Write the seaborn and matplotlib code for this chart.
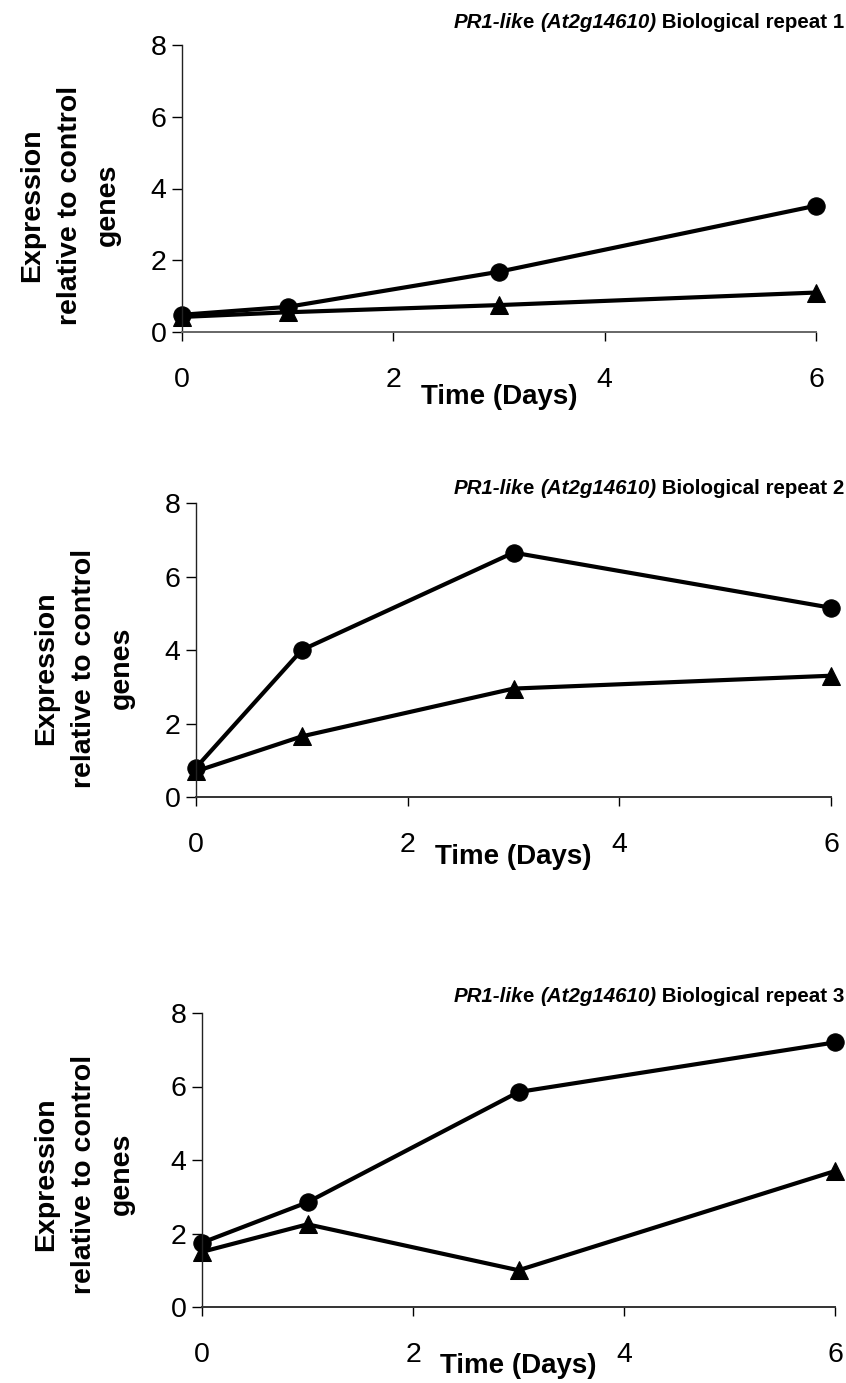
import matplotlib
matplotlib.use("Agg")
import matplotlib.pyplot as plt
import seaborn as sns
import numpy as np

days = [0, 1, 3, 6]
rep1_circle = [0.48, 0.70, 1.68, 3.52]
rep1_triangle = [0.42, 0.55, 0.75, 1.10]
rep2_circle = [0.80, 4.00, 6.65, 5.15]
rep2_triangle = [0.70, 1.65, 2.95, 3.30]
rep3_circle = [1.75, 2.85, 5.85, 7.20]
rep3_triangle = [1.50, 2.25, 1.00, 3.70]
x_ticks = [0, 2, 4, 6]
y_ticks = [0, 2, 4, 6, 8]
title_parts = [("PR1-lik", "italic"), ("e ", "normal"), ("(At2g14610)", "italic")]
title_rest = [" Biological repeat 1", " Biological repeat 2", " Biological repeat 3"]
ylabel = "Expression\nrelative to control\ngenes"
xlabel = "Time (Days)"

sns.set_style("white")
plt.rcParams['font.family'] = ['Liberation Sans', 'DejaVu Sans']
plt.rcParams['text.color'] = 'black'
plt.rcParams['axes.labelcolor'] = 'black'
plt.rcParams['xtick.color'] = 'black'
plt.rcParams['ytick.color'] = 'black'

W, H = 846, 1383
fig = plt.figure(figsize=(W / 100, H / 100), dpi=100)

# axes boxes in pixels: left, right, top, bottom
boxes = [(182, 816, 45, 332), (196, 831, 503, 797), (202, 835, 1013, 1307)]
title_y = [23, 489, 997]
xlabel_y = [397, 857, 1366]
ylabel_x = [70, 84, 84]
ylabel_yc = [205, 668, 1174]
series = [(rep1_circle, rep1_triangle), (rep2_circle, rep2_triangle), (rep3_circle, rep3_triangle)]

renderer = fig.canvas.get_renderer()
TFS = 14.8
for i, ((l, r, t, b), (circ, tri)) in enumerate(zip(boxes, series)):
    ax = fig.add_axes([l / W, 1 - b / H, (r - l) / W, (b - t) / H])
    sns.lineplot(x=days, y=circ, ax=ax, color="black", lw=3.0, marker="o",
                 markersize=12.5, markeredgecolor="black", markerfacecolor="black")
    sns.lineplot(x=days, y=tri, ax=ax, color="black", lw=3.0, marker="^",
                 markersize=13.5, markeredgecolor="black", markerfacecolor="black")
    ax.set_xlim(0, 6)
    ax.set_ylim(0, 8)
    ax.set_xticks(x_ticks)
    ax.set_yticks(y_ticks)
    for s in ["top", "right"]:
        ax.spines[s].set_visible(False)
    ax.spines["left"].set_color("#222222")
    ax.spines["bottom"].set_color("#666666" if i == 0 else "#333333")
    ax.spines["left"].set_linewidth(1.0)
    ax.spines["bottom"].set_linewidth(1.4)
    for sp in ax.spines.values():
        sp.set_clip_on(False)
    for line in ax.lines:
        line.set_clip_on(False)
    ax.tick_params(axis="x", direction="out", length=6.5, width=1, pad=18.5, labelsize=20.5,
                   bottom=True, colors="black")
    ax.tick_params(axis="y", direction="out", length=7, width=1, pad=4, labelsize=20.5,
                   left=True, colors="black")
    ax.set_xlabel(xlabel, fontsize=20, fontweight="bold", va="center", color="black")
    ax.xaxis.set_label_coords(0.5, -(xlabel_y[i] - b) / (b - t))
    ax.set_ylabel(ylabel, fontsize=20.5, fontweight="bold", linespacing=1.6, va="center",
                  color="black")
    ax.yaxis.set_label_coords((ylabel_x[i] - l) / (r - l), (b - ylabel_yc[i]) / (b - t))

    # title: bold-italic part + bold part, right aligned
    yy = 1 - title_y[i] / H
    t2 = fig.text(0.998, yy, title_rest[i], ha="right", va="center",
                  fontsize=TFS, fontweight="bold", color="black")
    x_right = t2.get_window_extent(renderer=renderer).x0
    for txt, style in reversed(title_parts):
        tp = fig.text(x_right / W, yy, txt, ha="right", va="center",
                      fontsize=TFS, fontweight="bold", fontstyle=style, color="black")
        x_right = tp.get_window_extent(renderer=renderer).x0

fig.savefig("out.png", dpi=100)
